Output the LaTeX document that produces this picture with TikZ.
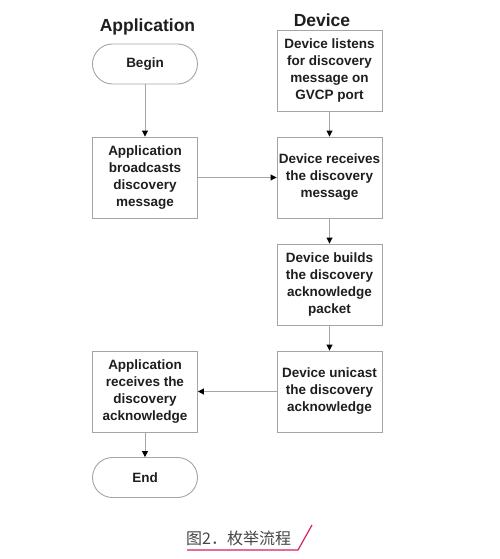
\documentclass[tikz,border=0pt]{standalone}
\usepackage{fontspec}
\setmainfont{Liberation Sans}
\newfontfamily\cjkfont{Noto Sans CJK SC}
\usepackage{xcolor}
\usetikzlibrary{arrows.meta,positioning,shapes}
\definecolor{boxgray}{RGB}{165,165,165}
\definecolor{textdark}{RGB}{30,30,30}
\definecolor{capred}{RGB}{214,32,90}
\definecolor{capgray}{RGB}{70,70,70}

\tikzset{
  stepbox/.style={draw=boxgray, line width=0.9pt, text=textdark, minimum width=105pt, minimum height=81pt,
    align=center, inner sep=0pt, font=\fontsize{13.5}{17}\selectfont\bfseries},
  termbox/.style={stepbox, rounded corners=20pt, minimum height=40pt},
  flow/.style={draw=boxgray, line width=0.9pt, -{Triangle[black,length=6pt,width=6pt]}},
  lanetitle/.style={anchor=base, text=textdark, font=\fontsize{17.5}{20}\selectfont\bfseries}
}

\begin{document}
\begin{tikzpicture}[x = 1pt, y = -1pt]
  \fill[white] (0,0) rectangle (500,559);
  \useasboundingbox (0,0) rectangle (500,559);
  % lane titles
  \node[lanetitle] (apptitle) at (147.5,31.5) {Application};
  \node[lanetitle] (devtitle) at (322,26.5) {Device};
  % application side
  \node[termbox] (begin) at (145,64) {Begin};
  \node[stepbox] (bcast) at (145,177.5) {Application\\broadcasts\\discovery\\message};
  \node[stepbox] (apprecv) at (145,391.5) {Application\\receives the\\discovery\\acknowledge};
  \node[termbox] (end) at (145,477.5) {End};
  % device side
  \node[stepbox] (listen) at (329.5,71) {Device listens\\for discovery\\message on\\GVCP port};
  \node[stepbox] (devrecv) at (329.5,177.5) {Device receives\\the discovery\\message};
  \node[stepbox] (build) at (329.5,284.5) {Device builds\\the discovery\\acknowledge\\packet};
  \node[stepbox] (unicast) at (329.5,391.5) {Device unicast\\the discovery\\acknowledge};
  \draw[flow] (begin) -- (bcast);
  \draw[flow] (bcast) -- (devrecv);
  \draw[flow] (listen) -- (devrecv);
  \draw[flow] (devrecv) -- (build);
  \draw[flow] (build) -- (unicast);
  \draw[flow] (unicast) -- (apprecv);
  \draw[flow] (apprecv) -- (end);
  % caption
  \node[anchor = west, inner sep = 0pt, text = capgray, font = \cjkfont\fontsize{16}{18}\selectfont] (cap) at (186,538) {图2．枚举流程};
  \coordinate (capend) at (298,550);
  \draw[capred, line width = 1.2pt] (187,550) -- (capend) -- (312,525);
\end{tikzpicture}
\end{document}
